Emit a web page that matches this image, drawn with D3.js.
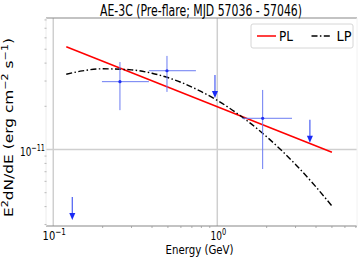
<!DOCTYPE html>
<html>
<head>
<meta charset="utf-8">
<script src="https://cdn.jsdelivr.net/npm/d3@7"></script>
<style>
  body { margin: 0; background: #fff; }
  text { font-family: "DejaVu Sans", sans-serif; fill: #000; }
</style>
</head>
<body>
<div id="chart"></div>
<script>
// flux points (energy in GeV, E^2 dN/dE in erg cm^-2 s^-1)
const pointE   = [0.255, 0.4935, 1.891]
const pointElo = [0.198, 0.383, 1.42]
const pointEhi = [0.383, 0.741, 2.855]
const pointF   = [2.97e-11, 3.54e-11, 1.65e-11]
const pointFlo = [1.88e-11, 2.52e-11, 7.31e-12]
const pointFhi = [4.07e-11, 4.49e-11, 2.60e-11]

// upper limits
const ulE = [0.1306, 0.968, 3.67]
const ulF = [4.67e-12, 3.30e-11, 1.61e-11]

// model curves
const plE = [0.12, 5.0]
const plF = [5.20e-11, 9.56e-12]
const lpE = [0.12, 0.15, 0.2, 0.3, 0.4, 0.6, 0.8, 1.0, 1.5, 2, 3, 4, 5]
const lpF = [3.345e-11, 3.53e-11, 3.65e-11, 3.59e-11, 3.40e-11, 2.94e-11, 2.53e-11,
             2.20e-11, 1.605e-11, 1.227e-11, 7.87e-12, 5.48e-12, 4.04e-12]

const xMajor = [0.1, 1]
const xMajorLabels = ["\u22121", "0"]
const yMajor = [1e-11]

const width = 360, height = 263
const pLeft = 46, pRight = 357, pTop = 18, pBottom = 226

const xScale = d3.scaleLog().domain([0.0903, 7.11]).range([pLeft, pRight])
const yScale = d3.scaleLog().domain([2.93e-12, 8.25e-11]).range([pBottom, pTop])

const svg = d3.select("#chart").append("svg")
  .attr("width", width).attr("height", height)

// grid
svg.selectAll(".vgrid").data(xMajor).enter().append("line")
  .attr("x1", d => xScale(d)).attr("x2", d => xScale(d))
  .attr("y1", pTop).attr("y2", pBottom)
  .attr("stroke", "#cfcfcf").attr("stroke-width", 1.5)
svg.selectAll(".hgrid").data(yMajor).enter().append("line")
  .attr("x1", pLeft).attr("x2", pRight)
  .attr("y1", d => yScale(d)).attr("y2", d => yScale(d))
  .attr("stroke", "#cfcfcf").attr("stroke-width", 1.5)

// spines
svg.append("line").attr("x1", pLeft).attr("x2", pRight).attr("y1", pTop).attr("y2", pTop)
  .attr("stroke", "#888").attr("stroke-width", 1.2)
svg.append("line").attr("x1", pLeft).attr("x2", pRight).attr("y1", pBottom).attr("y2", pBottom)
  .attr("stroke", "#888").attr("stroke-width", 1.2)
svg.append("line").attr("x1", pLeft).attr("x2", pLeft).attr("y1", pTop).attr("y2", pBottom)
  .attr("stroke", "#ececec").attr("stroke-width", 1)
svg.append("line").attr("x1", pRight).attr("x2", pRight).attr("y1", pTop).attr("y2", pBottom)
  .attr("stroke", "#f2f2f2").attr("stroke-width", 1)

// minor ticks
const xMinor = xScale.ticks().filter(d => xMajor.indexOf(d) < 0)
svg.selectAll(".xminor").data(xMinor).enter().append("line")
  .attr("x1", d => xScale(d)).attr("x2", d => xScale(d))
  .attr("y1", pBottom).attr("y2", pBottom + 2)
  .attr("stroke", "#999").attr("stroke-width", 0.8)
const yMinor = yScale.ticks().filter(d => Math.abs(Math.log10(d) + 11) > 1e-6)
svg.selectAll(".yminor").data(yMinor).enter().append("line")
  .attr("x1", pLeft - 1.5).attr("x2", pLeft + 0.5)
  .attr("y1", d => yScale(d)).attr("y2", d => yScale(d))
  .attr("stroke", "#aaa").attr("stroke-width", 0.8)

// tick labels
function powLabel(sel, exp) {
  sel.append("tspan").text("10")
  sel.append("tspan").attr("dy", -5).attr("font-size", 9.5).text(exp)
}
const xLabW = [23.3, 15.7]
xMajor.forEach((d, i) => {
  const t = svg.append("text")
    .attr("x", xScale(d) + 1).attr("y", 239.5)
    .attr("text-anchor", "middle").attr("font-size", 13)
    .attr("textLength", xLabW[i]).attr("lengthAdjust", "spacingAndGlyphs")
  powLabel(t, xMajorLabels[i])
})
const yt = svg.append("text")
  .attr("x", 45).attr("y", yScale(yMajor[0]) + 6)
  .attr("text-anchor", "end").attr("font-size", 13)
  .attr("textLength", 25).attr("lengthAdjust", "spacingAndGlyphs")
powLabel(yt, "\u221211")

// axis labels and title
svg.append("text").text("AE-3C (Pre-flare; MJD 57036 - 57046)")
  .attr("x", 201).attr("y", 16).attr("text-anchor", "middle")
  .attr("font-size", 15).attr("textLength", 202).attr("lengthAdjust", "spacingAndGlyphs")

svg.append("text").text("Energy (GeV)")
  .attr("x", 199.5).attr("y", 254).attr("text-anchor", "middle")
  .attr("font-size", 13).attr("textLength", 68).attr("lengthAdjust", "spacingAndGlyphs")

const yl = svg.append("text")
  .attr("transform", "translate(13,127.5)rotate(-90)")
  .attr("text-anchor", "middle").attr("font-size", 12.5)
  .attr("textLength", 179).attr("lengthAdjust", "spacingAndGlyphs")
yl.append("tspan").text("E")
yl.append("tspan").attr("dy", -5).attr("font-size", 9).text("2")
yl.append("tspan").attr("dy", 5).text("dN/dE (erg cm")
yl.append("tspan").attr("dy", -5).attr("font-size", 9).text("\u22122")
yl.append("tspan").attr("dy", 5).text(" s")
yl.append("tspan").attr("dy", -5).attr("font-size", 9).text("\u22121")
yl.append("tspan").attr("dy", 5).text(")")

// model curves
const line = d3.line().x(d => xScale(d[0])).y(d => yScale(d[1]))
svg.append("path")
  .attr("d", line(plE.map((e, i) => [e, plF[i]])))
  .attr("fill", "none").attr("stroke", "red").attr("stroke-width", 1.5)
svg.append("path")
  .attr("d", line.curve(d3.curveMonotoneX)(lpE.map((e, i) => [e, lpF[i]])))
  .attr("fill", "none").attr("stroke", "#000").attr("stroke-width", 1.4)
  .attr("stroke-dasharray", "6,2.4,1.5,2.4")

// error bars
const errCol = "#6b7cf2", markCol = "#1f2ff5"
pointE.forEach((e, i) => {
  svg.append("line")
    .attr("x1", xScale(pointElo[i])).attr("x2", xScale(pointEhi[i]))
    .attr("y1", yScale(pointF[i])).attr("y2", yScale(pointF[i]))
    .attr("stroke", errCol).attr("stroke-width", 1)
  svg.append("line")
    .attr("x1", xScale(e)).attr("x2", xScale(e))
    .attr("y1", yScale(pointFlo[i])).attr("y2", yScale(pointFhi[i]))
    .attr("stroke", errCol).attr("stroke-width", 1)
  svg.append("circle")
    .attr("cx", xScale(e)).attr("cy", yScale(pointF[i])).attr("r", 1.6)
    .attr("fill", markCol)
})

// upper limit arrows
const arrowLen = 23
ulE.forEach((e, i) => {
  const x = xScale(e), y = yScale(ulF[i])
  svg.append("line")
    .attr("x1", x).attr("x2", x).attr("y1", y).attr("y2", y + arrowLen - 4)
    .attr("stroke", "#4a5ef2").attr("stroke-width", 1.2)
  svg.append("path")
    .attr("d", "M" + (x - 3) + "," + (y + arrowLen - 7) + "L" + (x + 3) + "," + (y + arrowLen - 7) +
               "L" + x + "," + (y + arrowLen) + "Z")
    .attr("fill", "#1a2af5")
})

// legend
const lg = svg.append("g")
lg.append("rect").attr("x", 251).attr("y", 24).attr("width", 102).attr("height", 24)
  .attr("rx", 2).attr("fill", "#fff").attr("stroke", "#d6d6d6").attr("stroke-width", 1)
lg.append("line").attr("x1", 257).attr("x2", 276).attr("y1", 36).attr("y2", 36)
  .attr("stroke", "red").attr("stroke-width", 1.5)
lg.append("text").text("PL").attr("x", 279).attr("y", 40.5).attr("font-size", 14)
  .attr("textLength", 14).attr("lengthAdjust", "spacingAndGlyphs")
lg.append("line").attr("x1", 311.5).attr("x2", 330.5).attr("y1", 36).attr("y2", 36)
  .attr("stroke", "#000").attr("stroke-width", 1.4).attr("stroke-dasharray", "6,2.4,1.5,2.4")
lg.append("text").text("LP").attr("x", 336.5).attr("y", 40.5).attr("font-size", 14)
  .attr("textLength", 15).attr("lengthAdjust", "spacingAndGlyphs")
</script>
</body>
</html>
